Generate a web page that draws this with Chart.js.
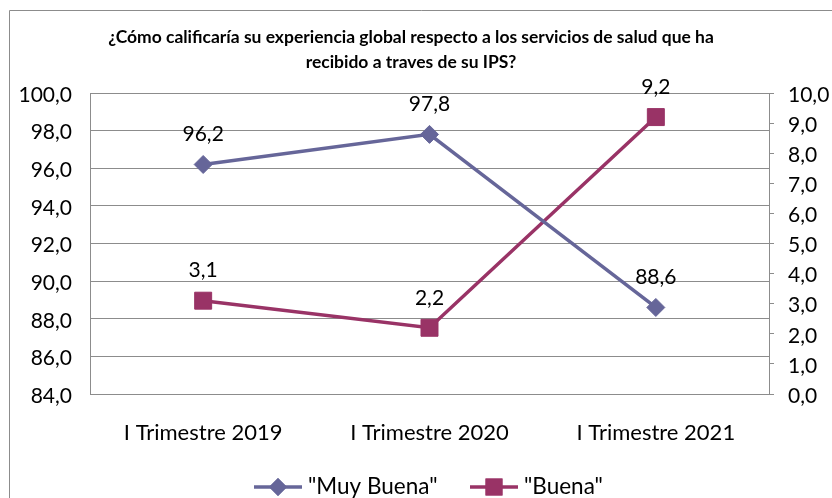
<!DOCTYPE html>
<html><head><meta charset="utf-8">
<script src="https://cdn.jsdelivr.net/npm/chart.js@4"></script>
<style>html,body{margin:0;padding:0;background:#fff}#wrap{width:832px;height:498px}</style>
</head><body><div id="wrap"><canvas id="c" width="832" height="498"></canvas></div>
<script>
const categories = ["I Trimestre 2019", "I Trimestre 2020", "I Trimestre 2021"];
const muyBuena = [96.2, 97.8, 88.6];
const buena = [3.1, 2.2, 9.2];
const seriesNames = ['"Muy Buena"', '"Buena"'];
const titleLines = ["¿Cómo calificaría su experiencia global respecto a los servicios de salud que ha", "recibido a traves de su IPS?"];
const leftRange = [84, 100, 2];
const rightRange = [0, 10, 1];

const FONT = "Lato";
const C1 = "#666699";
const C2 = "#993366";
const GRID = "#8c8c8c";
const fmt = v => v.toFixed(1).replace(".", ",");

const deco = {
  id: "deco",
  beforeDraw(chart) {
    const ctx = chart.ctx;
    ctx.save();
    ctx.strokeStyle = GRID; ctx.lineWidth = 1;
    ctx.beginPath();
    ctx.moveTo(9.5, 500); ctx.lineTo(9.5, 10.5); ctx.lineTo(840, 10.5);
    ctx.stroke();
    ctx.fillStyle = "#000";
    ctx.font = "bold 15px " + FONT;
    const w = ctx.measureText(titleLines[0]).width;
    const fs = Math.min(18, 15 * 606 / w);
    ctx.font = "bold " + fs.toFixed(2) + "px " + FONT;
    ctx.textAlign = "center"; ctx.textBaseline = "middle";
    ctx.fillText(titleLines[0], 411, 37);
    ctx.fillText(titleLines[1], 411, 62);
    ctx.restore();
  },
  afterDatasetsDraw(chart) {
    const ctx = chart.ctx;
    ctx.save();
    ctx.fillStyle = "#000";
    ctx.font = "21px " + FONT;
    ctx.textAlign = "center"; ctx.textBaseline = "middle";
    chart.data.datasets.forEach((ds, i) => {
      chart.getDatasetMeta(i).data.forEach((pt, j) => {
        ctx.fillText(fmt(ds.data[j]), pt.x, pt.y - 30);
      });
    });
    // legend
    const items = [
      {x0: 254, name: seriesNames[0], color: C1, style: "rectRot", r: 9},
      {x0: 470, name: seriesNames[1], color: C2, style: "rect", r: 12}
    ];
    const y = 487;
    ctx.font = "22.5px " + FONT;
    items.forEach(it => {
      ctx.strokeStyle = it.color; ctx.lineWidth = 3.5;
      ctx.beginPath(); ctx.moveTo(it.x0, y); ctx.lineTo(it.x0 + 48, y); ctx.stroke();
      ctx.fillStyle = it.color;
      Chart.helpers.drawPoint(ctx, {pointStyle: it.style, radius: it.r, borderWidth: 0}, it.x0 + 24, y);
      ctx.fill();
      ctx.fillStyle = "#000";
      ctx.textAlign = "left";
      ctx.fillText(it.name, it.x0 + 54, y);
    });
    ctx.restore();
  }
};

new Chart(document.getElementById("c"), {
  type: "line",
  data: {
    labels: categories,
    datasets: [
      {label: seriesNames[0], data: muyBuena, yAxisID: "y", borderColor: C1, backgroundColor: C1,
       borderWidth: 3.5, pointStyle: "rectRot", pointRadius: 9, pointBorderWidth: 1, tension: 0},
      {label: seriesNames[1], data: buena, yAxisID: "y1", borderColor: C2, backgroundColor: C2,
       borderWidth: 3.5, pointStyle: "rect", pointRadius: 12, pointBorderWidth: 1, tension: 0}
    ]
  },
  options: {
    responsive: false,
    animation: false,
    devicePixelRatio: 1,
    layout: {padding: {top: 93, left: 0, right: 0, bottom: 0}},
    plugins: {legend: {display: false}, title: {display: false}, tooltip: {enabled: false}},
    scales: {
      x: {
        offset: true,
        grid: {display: false, drawTicks: false},
        border: {display: true, color: GRID, width: 1},
        ticks: {color: "#000", font: {family: FONT, size: 22}, padding: 26, maxRotation: 0},
        afterFit(s) { s.height = 104; }
      },
      y: {
        position: "left",
        min: leftRange[0], max: leftRange[1],
        grid: {color: GRID, drawTicks: false},
        border: {display: true, color: GRID, width: 1},
        ticks: {stepSize: leftRange[2], color: "#000", font: {family: FONT, size: 21}, padding: 18,
                labelOffset: 2, callback: v => fmt(v)},
        afterFit(s) { s.width = 90; }
      },
      y1: {
        position: "right",
        min: rightRange[0], max: rightRange[1],
        grid: {drawOnChartArea: false, color: GRID, tickLength: 5},
        border: {display: true, color: GRID, width: 1},
        ticks: {stepSize: rightRange[2], color: "#000", font: {family: FONT, size: 21}, padding: 14,
                labelOffset: 2, callback: v => fmt(v)},
        afterFit(s) { s.width = 63; }
      }
    }
  },
  plugins: [deco]
});
</script>
</body></html>
